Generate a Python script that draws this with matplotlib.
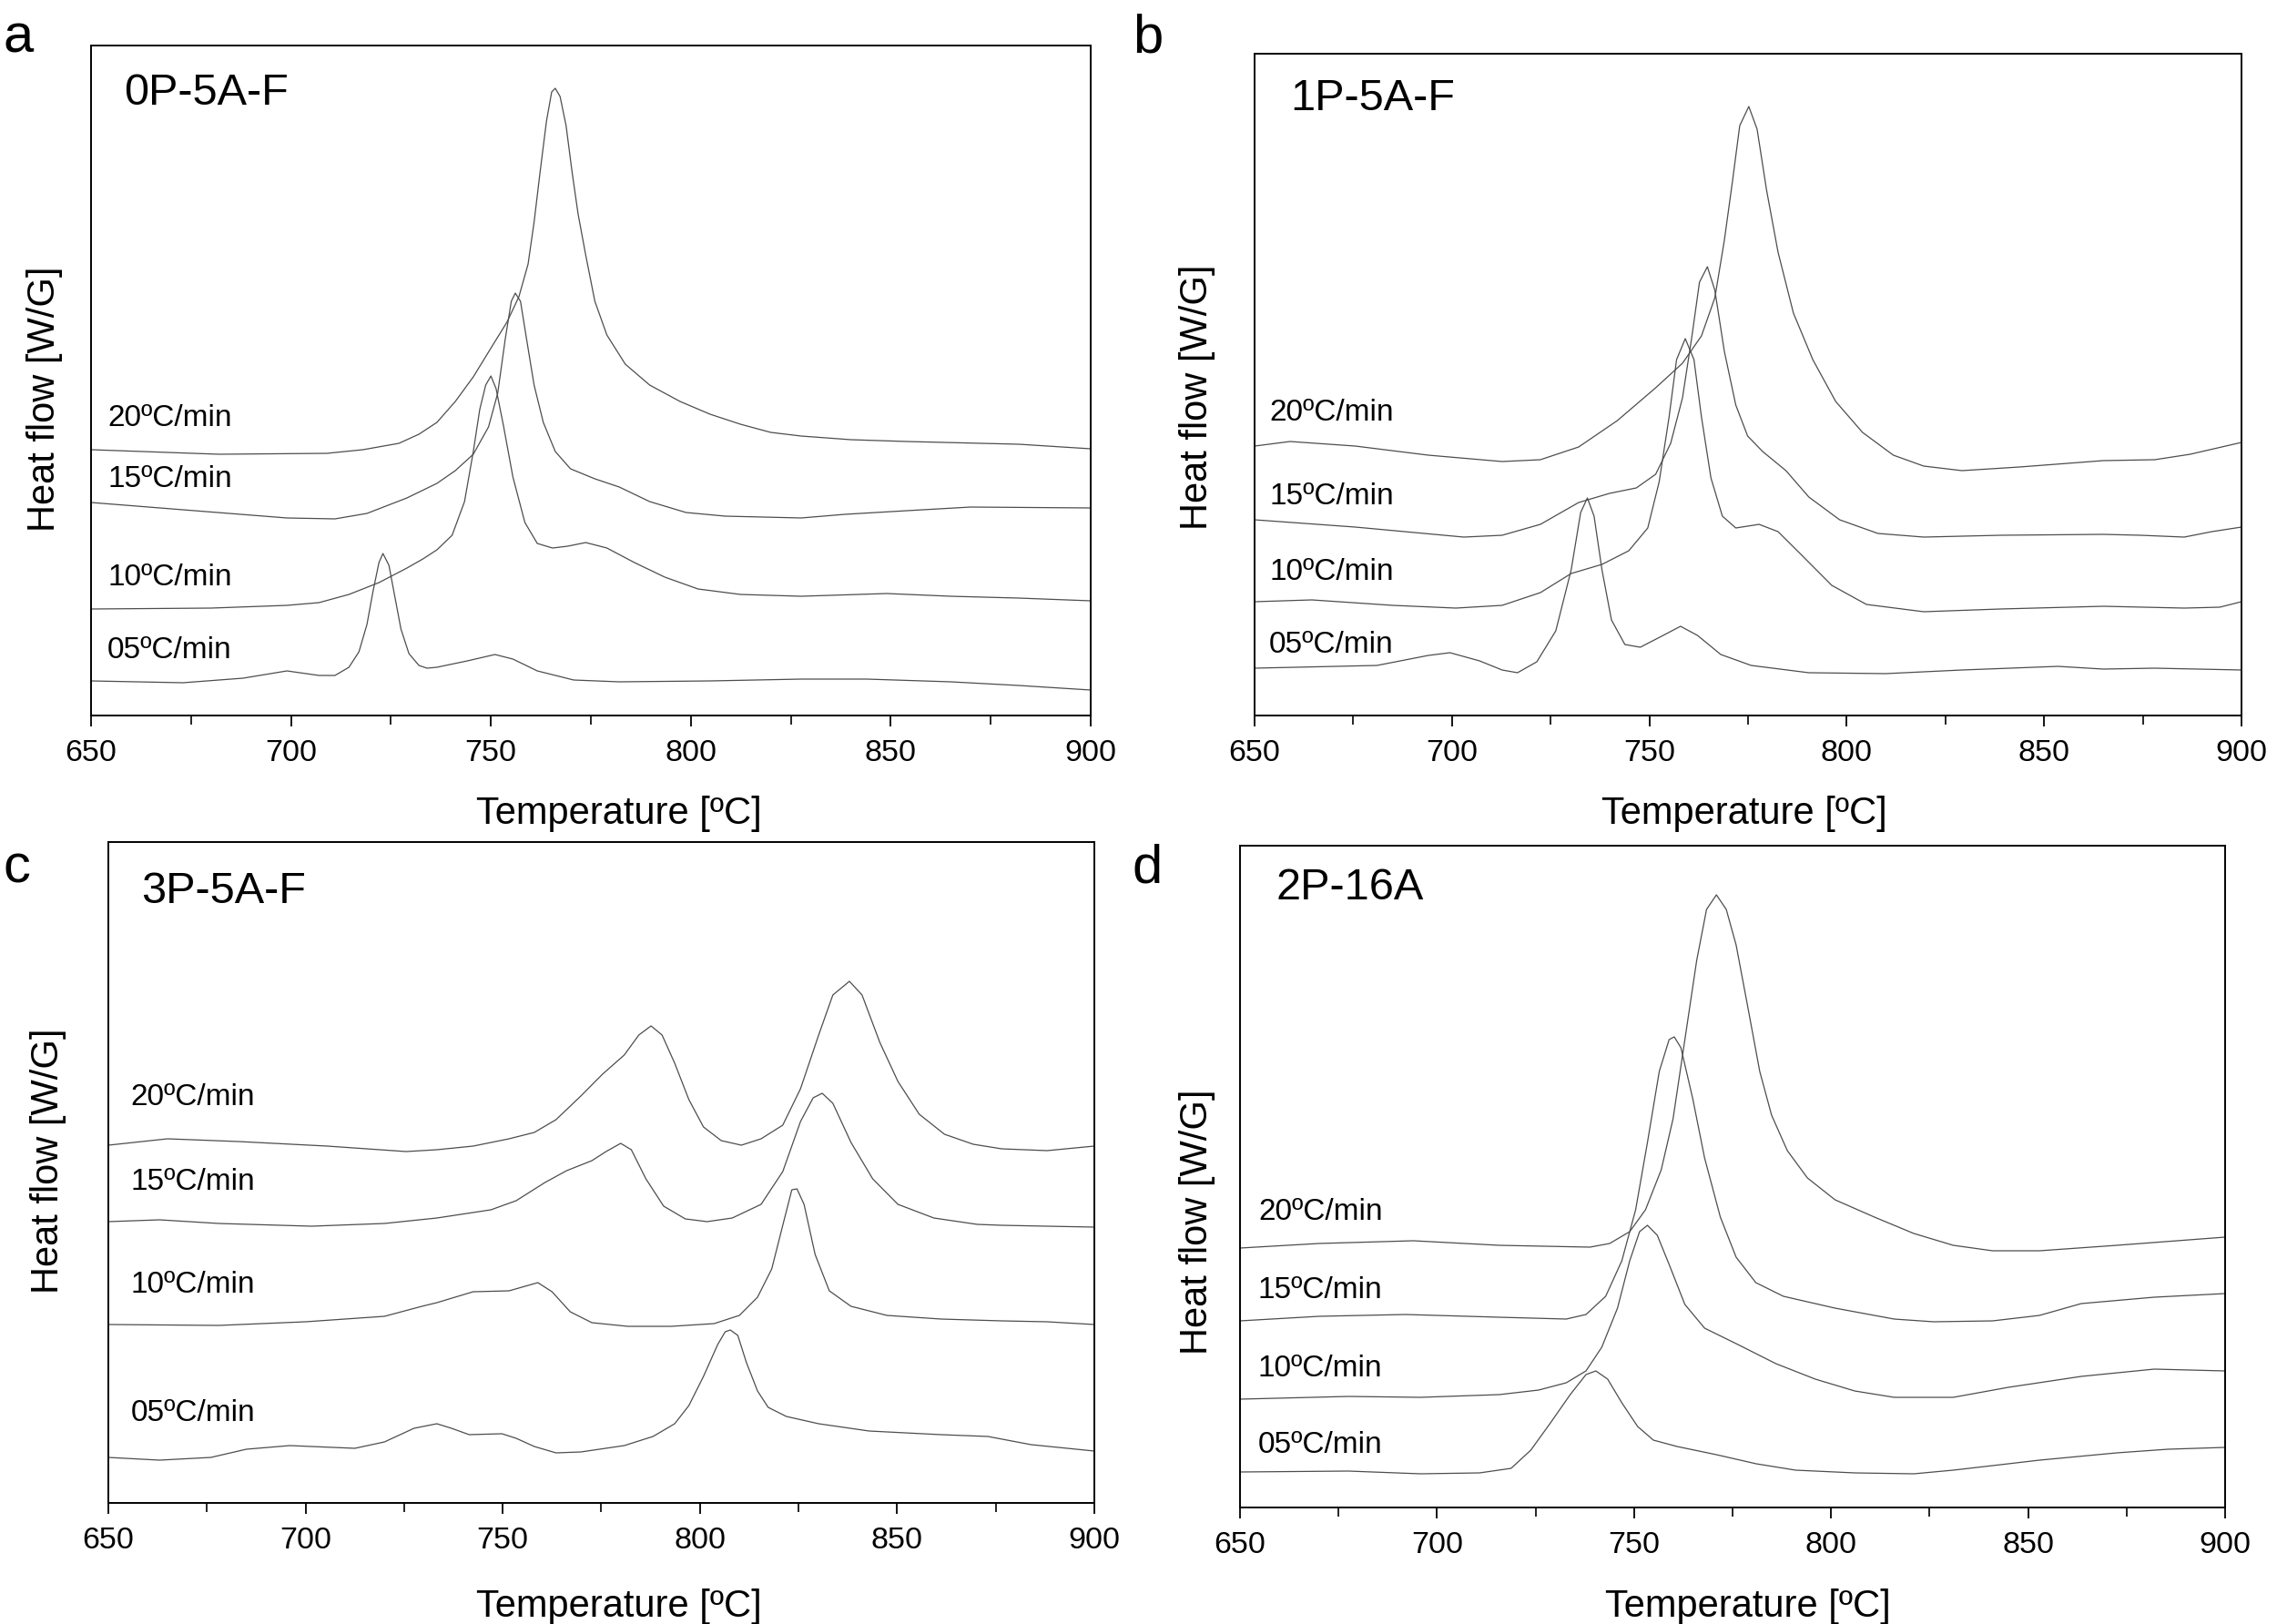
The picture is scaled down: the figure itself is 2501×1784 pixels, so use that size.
import matplotlib
matplotlib.use("Agg")
import matplotlib.pyplot as plt
from matplotlib.ticker import MultipleLocator

plt.rcParams['font.family'] = ['Liberation Sans', 'DejaVu Sans']

# ---------------- data (temperature in degC, heat flow in arbitrary units) -------------
rates = ["20ºC/min", "15ºC/min", "10ºC/min", "05ºC/min"]
panel_letters = ["a", "b", "c", "d"]
panel_titles = ["0P-5A-F", "1P-5A-F", "3P-5A-F", "2P-16A"]

# panel a : 0P-5A-F
a_T20 = [650, 682, 709, 718, 727, 732, 736.5, 741.1, 745.6, 750.2, 754, 757, 759.3, 760.8, 762.3, 763.9, 765.2, 766.1, 767.3, 768.8, 770.3, 771.8, 773.7, 776, 779, 783.6, 789.7, 797.3, 804.8, 812.4, 820, 827.6, 840, 854, 882, 900]
a_H20 = [292, 287, 288, 292, 299, 309, 322, 345, 372, 405, 432, 460, 496, 542, 597, 653, 685, 689, 680, 648, 597, 551, 506, 455, 418, 386, 363, 345, 331, 320, 311, 307, 303, 301, 298, 293]
a_T15 = [650, 673, 699, 711, 719, 729, 736.5, 741.1, 745.6, 749.4, 751.7, 753.6, 755.1, 756.1, 757.4, 758.9, 760.8, 763.1, 766.1, 769.9, 776, 782.1, 789.7, 798.8, 808.6, 827.6, 838.5, 854, 870, 900]
a_H15 = [234, 226, 217, 216, 222, 239, 255, 269, 287, 317, 354, 414, 455, 464, 455, 414, 363, 322, 290, 271, 260, 251, 235, 223, 219, 217, 221, 225, 229, 228]
a_T10 = [650, 680, 699, 707, 714.5, 722, 729, 733, 736.5, 740.3, 743.4, 745.6, 747.2, 748.7, 750, 751.3, 753.2, 755.5, 758.5, 761.6, 765.4, 769.2, 773.7, 779, 785.9, 793.5, 801.8, 812.4, 827.6, 849, 865, 882, 900]
a_H10 = [117, 118, 121, 124, 133, 146, 162, 172, 182, 198, 235, 290, 336, 363, 373, 359, 317, 262, 212, 189, 184, 186, 190, 184, 168, 152, 139, 133, 131, 134, 131, 129, 126]
a_T05 = [650, 673, 688, 699, 707, 711, 714.5, 717, 719, 720.5, 722, 723, 724.5, 726, 727.5, 729.5, 732, 734, 736.5, 744.1, 751, 755.5, 761.6, 770.7, 782.1, 804.8, 827.6, 844, 865, 882, 900]
a_H05 = [38, 36, 41, 49, 44, 44, 53, 70, 100, 136, 168, 178, 165, 130, 95, 68, 55, 52, 53, 60, 67, 62, 49, 39, 37, 38, 40, 40, 37, 33, 28]

# panel b : 1P-5A-F
b_T20 = [650, 659, 675.5, 694, 712.7, 722.4, 732.1, 741.9, 751.6, 758.4, 763.2, 766.6, 769, 771, 772.9, 775.2, 777.3, 779.7, 782.6, 786.5, 791.4, 797.2, 804, 811.8, 819.5, 829.2, 843.8, 865, 878, 887, 900]
b_H20 = [296, 301, 296, 286, 279, 281, 295, 324, 360, 387, 417, 459, 522, 585, 648, 669, 644, 577, 509, 442, 391, 345, 311, 286, 274, 269, 273, 280, 281, 287, 300]
b_T15 = [650, 675.5, 703, 712.7, 722.4, 732.1, 739.9, 746.7, 751.6, 755.4, 758.4, 760.8, 762.7, 764.7, 766.6, 769, 771.9, 774.9, 778.7, 784.6, 790.4, 798.2, 807.9, 819.5, 838.9, 865, 874.5, 885.5, 892.5, 900]
b_H15 = [215, 207, 196, 198, 210, 234, 244, 250, 265, 299, 349, 417, 476, 493, 467, 400, 341, 307, 290, 269, 240, 215, 200, 196, 198, 199, 198, 196, 202, 207]
b_T10 = [650, 664.5, 685, 701, 712.7, 722.4, 730.2, 738, 744.8, 749.6, 752.5, 755, 756.9, 759.1, 761.3, 763.2, 765.6, 768.5, 771.9, 777.8, 782.6, 788.4, 796.2, 805, 819.5, 838.9, 865, 885.5, 894.5, 900]
b_H10 = [125, 127, 121, 118, 121, 135, 156, 166, 181, 206, 257, 328, 391, 414, 391, 328, 261, 219, 206, 210, 202, 177, 143, 122, 114, 117, 120, 118, 119, 125]
b_T05 = [650, 681, 694, 699.5, 707, 712.7, 716.6, 721.5, 726.3, 730.2, 732.6, 734.3, 736, 738, 740.4, 743.8, 747.7, 753.5, 757.9, 762.2, 768.1, 775.8, 790.4, 809.8, 829.2, 853.5, 865, 878, 900]
b_H05 = [52, 55, 66, 69, 60, 50, 47, 59, 93, 160, 223, 239, 219, 160, 105, 78, 75, 88, 98, 88, 67, 55, 47, 46, 50, 54, 51, 52, 50]

# panel c : 3P-5A-F
c_T20 = [650, 665, 683, 705.5, 725.5, 733.3, 742.5, 751.6, 758, 763.5, 769.8, 775.3, 780.8, 784.5, 787.6, 790.4, 793.6, 797.2, 800.9, 805.4, 810.5, 815.5, 821, 825.5, 830.1, 833.7, 837.9, 841.1, 845.6, 850.2, 855.6, 862, 869.3, 876.5, 888, 900]
c_H20 = [393, 400, 397, 392, 386, 388, 392, 400, 407, 421, 447, 471, 492, 514, 524, 514, 483, 443, 413, 398, 393, 400, 415, 455, 514, 558, 573, 558, 506, 463, 427, 405, 394, 389, 387, 392]
c_T15 = [650, 663, 678, 701.5, 720, 733.3, 747, 753.4, 760.7, 766.2, 772.6, 776.2, 779.9, 782.6, 786.3, 790.8, 796.3, 801.8, 808.2, 815.5, 821, 825.5, 828.7, 831, 833.7, 838.3, 843.8, 850.2, 859.3, 870.3, 876.5, 888, 900]
c_H15 = [309, 311, 307, 304, 307, 313, 322, 332, 352, 365, 376, 386, 395, 388, 356, 326, 312, 309, 313, 328, 364, 419, 445, 450, 439, 396, 356, 328, 313, 306, 305, 304, 303]
c_T10 = [650, 678, 700, 720, 729.5, 733.3, 742.5, 751.6, 758.9, 762.5, 767.1, 772.6, 781.7, 792.7, 803.6, 810, 814.6, 818.2, 821, 823.3, 824.6, 826.4, 829.2, 832.8, 838.3, 847.4, 861.1, 876.5, 888, 900]
c_H10 = [196, 195, 199, 205, 216, 220, 232, 233, 242, 232, 210, 198, 194, 194, 197, 206, 226, 257, 305, 344, 345, 328, 273, 233, 216, 206, 202, 200, 199, 196]
c_T05 = [650, 663, 676, 685, 696, 712.5, 720, 727.5, 733.3, 737, 741.5, 749.8, 753.4, 758, 763.5, 769.8, 780.8, 788.1, 793.6, 797.2, 800.9, 804.5, 806.4, 807.7, 809.6, 811.8, 814.6, 817.3, 821.9, 830.1, 842.9, 861.1, 873, 884, 900]
c_H05 = [50, 47, 50, 59, 63, 60, 67, 82, 87, 82, 75, 76, 71, 62, 55, 56, 63, 73, 87, 107, 139, 174, 188, 190, 184, 154, 123, 105, 95, 87, 79, 75, 73, 64, 57]

# panel d : 2P-16A
d_T20 = [650, 670, 694, 715.8, 738.8, 743.8, 748.9, 752.9, 756.9, 759.9, 762.9, 765.9, 768.4, 770.9, 773.4, 775.9, 778.9, 781.9, 784.9, 788.9, 794, 801, 811, 821, 831, 841, 852.9, 872.5, 900]
d_H20 = [285, 290, 293, 288, 286, 290, 303, 327, 371, 427, 514, 601, 657, 673, 657, 618, 549, 479, 431, 392, 362, 338, 319, 301, 288, 282, 282, 288, 297]
d_T15 = [650, 670, 692, 715.8, 732.8, 737.8, 742.8, 746.9, 750.4, 753.4, 756.4, 758.9, 760.2, 761.9, 764.9, 767.9, 771.9, 775.9, 780.9, 787.9, 801, 816, 826, 841, 852.9, 863.5, 882, 900]
d_H15 = [205, 210, 212, 209, 207, 212, 232, 271, 327, 401, 479, 514, 517, 505, 449, 384, 319, 275, 247, 232, 219, 207, 204, 205, 211, 224, 231, 235]
d_T10 = [650, 677.5, 695.8, 715.8, 725.8, 732.8, 737.8, 741.8, 745.8, 748.9, 751.4, 753.4, 755.9, 758.9, 762.9, 767.9, 775.9, 786, 796, 806, 816, 831, 845, 863.5, 882, 900]
d_H10 = [119, 122, 121, 124, 129, 137, 150, 176, 219, 271, 303, 310, 299, 267, 223, 197, 180, 158, 141, 128, 121, 121, 132, 144, 152, 150]
d_T05 = [650, 677.5, 695.8, 710.8, 718.8, 723.8, 728.8, 733.8, 737.8, 740.3, 743.3, 746.9, 750.9, 754.9, 760.9, 770.9, 781, 791, 806, 821, 831, 841, 852.9, 872.5, 885.5, 900]
d_H05 = [39, 40, 37, 38, 43, 63, 93, 124, 146, 150, 141, 115, 89, 74, 67, 58, 48, 41, 38, 37, 41, 46, 52, 60, 64, 66]

panels_T = [[a_T20, a_T15, a_T10, a_T05], [b_T20, b_T15, b_T10, b_T05],
            [c_T20, c_T15, c_T10, c_T05], [d_T20, d_T15, d_T10, d_T05]]
panels_H = [[a_H20, a_H15, a_H10, a_H05], [b_H20, b_H15, b_H10, b_H05],
            [c_H20, c_H15, c_H10, c_H05], [d_H20, d_H15, d_H10, d_H05]]

# ---------------- layout (pixels of the 2501x1784 canvas) ----------------
W, H = 2501, 1784
axes_px = [(100, 50, 1198, 786), (1378, 59, 2462, 786),
           (119, 925, 1202, 1651), (1362, 929, 2444, 1656)]
label_y = [[318, 251, 143, 63], [324, 232, 149, 69], [437, 344, 231, 90], [316, 230, 144, 60]]
label_x = [654.1, 653.7, 655.7, 654.6]
title_pos = [(136, 115), (1417, 121), (155, 992), (1402, 988)]
letter_pos = [(4, 57), (1244, 57), (4, 970), (1244, 970)]
ylab_pos = [(60, 438), (1326, 436), (64, 1275), (1326, 1342)]
xlab_pos = [(680, 905), (1916, 905), (680, 1776), (1920, 1776)]

fig = plt.figure(figsize=(W / 100, H / 100), dpi=100)
line_color = '#4d4d4d'

for i in range(4):
    l, t, r, b = axes_px[i]
    ax = fig.add_axes([l / W, 1 - b / H, (r - l) / W, (b - t) / H])
    for T, Hf in zip(panels_T[i], panels_H[i]):
        ax.plot(T, Hf, color=line_color, lw=0.9, solid_joinstyle='round')
    ax.set_xlim(650, 900)
    ax.set_ylim(0, b - t)
    ax.set_yticks([])
    ax.xaxis.set_major_locator(MultipleLocator(50))
    ax.xaxis.set_minor_locator(MultipleLocator(25))
    ax.tick_params(axis='x', which='major', direction='out', length=8.5, width=1.3,
                   labelsize=24.5, pad=10)
    ax.tick_params(axis='x', which='minor', direction='out', length=7, width=1.2)
    for sp in ax.spines.values():
        sp.set_linewidth(1.4)
    for k, txt in enumerate(rates):
        ax.text(label_x[i], label_y[i][k], txt, fontsize=24, ha='left', va='baseline')
    tx, ty = title_pos[i]
    fig.text(tx / W, 1 - ty / H, panel_titles[i], fontsize=35, ha='left', va='baseline')
    lx, ly = letter_pos[i]
    fig.text(lx / W, 1 - ly / H, panel_letters[i], fontsize=43, ha='left', va='baseline')
    yx, yy = ylab_pos[i]
    fig.text(yx / W, 1 - yy / H, "Heat flow [W/G]", fontsize=30, rotation=90,
             rotation_mode='anchor', ha='center', va='baseline')
    xx, xy = xlab_pos[i]
    fig.text(xx / W, 1 - xy / H, "Temperature [ºC]", fontsize=30, ha='center', va='baseline')

fig.savefig("out.png", dpi=100)
